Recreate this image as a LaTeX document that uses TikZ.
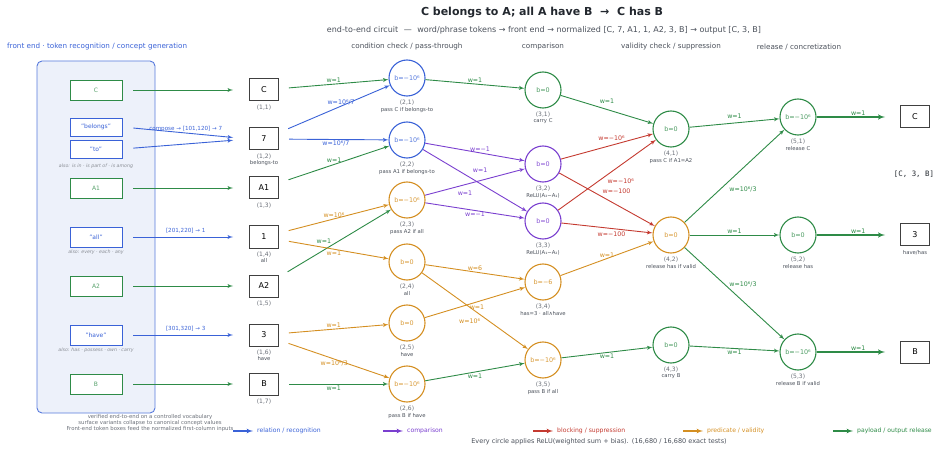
\documentclass[tikz,border=0pt]{standalone}
\usepackage{fontspec}
\setmainfont{DejaVu Sans}
\setmonofont{DejaVu Sans Mono}
\usepackage{tikz}
\usepackage{xcolor}
\usetikzlibrary{positioning}
\usetikzlibrary{shapes, arrows}

\definecolor{relblue}{HTML}{3A62D7}
\definecolor{paygreen}{HTML}{2E8B47}
\definecolor{predorange}{HTML}{D48F22}
\definecolor{cmppurple}{HTML}{7A3FCF}
\definecolor{blkred}{HTML}{C43A30}
\definecolor{titlec}{HTML}{22272E}
\definecolor{subc}{HTML}{4A505A}
\definecolor{idgray}{HTML}{6A6F78}
\definecolor{fefill}{HTML}{EDF1FA}

\newcommand{\fsz}[1]{\fontsize{#1}{#1}\selectfont}

\tikzstyle{line} = [draw, -latex', line width=0.9pt]
\tikzstyle{rel} = [line, relblue]
\tikzstyle{cmp} = [line, cmppurple]
\tikzstyle{blk} = [line, blkred]
\tikzstyle{pred} = [line, predorange]
\tikzstyle{pay} = [line, paygreen]
\tikzstyle{hdr} = [font=\fsz{7.2}, text=subc, inner sep=0pt]
\tikzstyle{febox} = [draw, fill=white, line width=0.9pt, minimum width=52pt, minimum height=20pt, inner sep=0pt, font=\fsz{6}]
\tikzstyle{fenote} = [font=\fsz{4.7}\itshape, text=idgray!80!white, inner sep=0pt]
\tikzstyle{inbox} = [draw=black!75, line width=1pt, minimum width=29pt, minimum height=22pt, inner sep=0pt, font=\fsz{8}]
\tikzstyle{unit} = [circle, draw, line width=1.1pt, minimum size=36pt, inner sep=0pt, font=\fsz{6.4}]
\tikzstyle{ublue} = [unit, draw=relblue, text=relblue!85!white]
\tikzstyle{ugreen} = [unit, draw=paygreen, text=paygreen!85!white]
\tikzstyle{uorange} = [unit, draw=predorange, text=predorange!90!white]
\tikzstyle{upurple} = [unit, draw=cmppurple, text=cmppurple!90!white]
\tikzstyle{idlab} = [font=\fsz{6}, text=idgray, inner sep=0.5pt]
\tikzstyle{desc} = [font=\fsz{5.3}, text=subc, inner sep=0.5pt]
\tikzstyle{wlab} = [font=\fsz{6.3}, inner sep=1pt]
\tikzstyle{lgd} = [font=\fsz{6.1}, inner sep=0pt, anchor=west]

\begin{document}
\begin{tikzpicture}[x=1pt, y=-1pt]
\useasboundingbox (0,0) rectangle (937,449);

\node[font=\bfseries\fsz{11}, text=titlec] (title) at (542,13) {C belongs to A; all A have B\hspace{0.7em}→\hspace{0.7em}C has B};
\node[font=\fsz{8}, text=subc] (subtitle) at (544,30) {end-to-end circuit\hspace{0.7em}—\hspace{0.7em}word/phrase tokens → front end → normalized [C, 7, A1, 1, A2, 3, B] → output [C, 3, B]};
\node[hdr, text=relblue, anchor=west] (hfront) at (7,47) {front end · token recognition / concept generation};
\node[hdr] (hcond) at (407,47) {condition check / pass-through};
\node[hdr] (hcomp) at (543,47) {comparison};
\node[hdr] (hvalid) at (671,47) {validity check / suppression};
\node[hdr] (hrelease) at (799,47) {release / concretization};

% front end
\node[draw=relblue!85!white, fill=fefill, rounded corners=5pt, line width=0.9pt, minimum width=118pt, minimum height=352pt] (panel) at (96,237) {};
\node[febox, draw=paygreen, text=paygreen!80!white] (fec) at (96,90) {C};
\node[febox, draw=relblue, text=relblue, minimum height=18pt] (febel) at (96,127) {"belongs"};
\node[febox, draw=relblue, text=relblue, minimum height=18pt] (feto) at (96,149) {"to"};
\node[fenote] (noteto) at (96,166) {also: is in · is part of · is among};
\node[febox, draw=paygreen, text=paygreen!80!white] (fea1) at (96,188) {A1};
\node[febox, draw=relblue, text=relblue] (feall) at (96,237) {"all"};
\node[fenote] (noteall) at (96,252) {also: every · each · any};
\node[febox, draw=paygreen, text=paygreen!80!white] (fea2) at (96,286) {A2};
\node[febox, draw=relblue, text=relblue] (fehave) at (96,335) {"have"};
\node[fenote] (notehave) at (96,350) {also: has · possess · own · carry};
\node[febox, draw=paygreen, text=paygreen!80!white] (feb) at (96,384) {B};

% layer 1
\node[inbox] (i1) at (264,90) {C};
\node[inbox] (i2) at (264,139) {7};
\node[inbox] (i3) at (264,188) {A1};
\node[inbox] (i4) at (264,237) {1};
\node[inbox] (i5) at (264,286) {A2};
\node[inbox] (i6) at (264,335) {3};
\node[inbox] (i7) at (264,384) {B};
\node[idlab, below=3pt of i1] (i1i) {(1,1)};
\node[idlab, below=3pt of i2] (i2i) {(1,2)};
\node[desc, below=0pt of i2i] (i2d) {belongs-to};
\node[idlab, below=3pt of i3] (i3i) {(1,3)};
\node[idlab, below=3pt of i4] (i4i) {(1,4)};
\node[desc, below=0pt of i4i] (i4d) {all};
\node[idlab, below=3pt of i5] (i5i) {(1,5)};
\node[idlab, below=3pt of i6] (i6i) {(1,6)};
\node[desc, below=0pt of i6i] (i6d) {have};
\node[idlab, below=3pt of i7] (i7i) {(1,7)};

% layer 2
\node[ublue] (n21) at (407,78) {b=−10⁶};
\node[ublue] (n22) at (407,140) {b=−10⁶};
\node[uorange] (n23) at (407,200) {b=−10⁶};
\node[uorange] (n24) at (407,262) {b=0};
\node[uorange] (n25) at (407,323) {b=0};
\node[uorange] (n26) at (407,384) {b=−10⁶};
\node[idlab, below=2.5pt of n21] (n21i) {(2,1)};
\node[desc, below=0.5pt of n21i] (n21d) {pass C if belongs-to};
\node[idlab, below=2.5pt of n22] (n22i) {(2,2)};
\node[desc, below=0.5pt of n22i] (n22d) {pass A1 if belongs-to};
\node[idlab, below=2.5pt of n23] (n23i) {(2,3)};
\node[desc, below=0.5pt of n23i] (n23d) {pass A2 if all};
\node[idlab, below=2.5pt of n24] (n24i) {(2,4)};
\node[desc, below=0.5pt of n24i] (n24d) {all};
\node[idlab, below=2.5pt of n25] (n25i) {(2,5)};
\node[desc, below=0.5pt of n25i] (n25d) {have};
\node[idlab, below=2.5pt of n26] (n26i) {(2,6)};
\node[desc, below=0.5pt of n26i] (n26d) {pass B if have};

% layer 3
\node[ugreen] (n31) at (543,90) {b=0};
\node[upurple] (n32) at (543,164) {b=0};
\node[upurple] (n33) at (543,221) {b=0};
\node[uorange] (n34) at (543,282) {b=−6};
\node[uorange] (n35) at (543,360) {b=−10⁶};
\node[idlab, below=2.5pt of n31] (n31i) {(3,1)};
\node[desc, below=0.5pt of n31i] (n31d) {carry C};
\node[idlab, below=2.5pt of n32] (n32i) {(3,2)};
\node[desc, below=0.5pt of n32i] (n32d) {ReLU(A₂−A₁)};
\node[idlab, below=2.5pt of n33] (n33i) {(3,3)};
\node[desc, below=0.5pt of n33i] (n33d) {ReLU(A₁−A₂)};
\node[idlab, below=2.5pt of n34] (n34i) {(3,4)};
\node[desc, below=0.5pt of n34i] (n34d) {has=3 · all∧have};
\node[idlab, below=2.5pt of n35] (n35i) {(3,5)};
\node[desc, below=0.5pt of n35i] (n35d) {pass B if all};

% layer 4
\node[ugreen] (n41) at (671,129) {b=0};
\node[uorange] (n42) at (671,235) {b=0};
\node[ugreen] (n43) at (671,345) {b=0};
\node[idlab, below=2.5pt of n41] (n41i) {(4,1)};
\node[desc, below=0.5pt of n41i] (n41d) {pass C if A1=A2};
\node[idlab, below=2.5pt of n42] (n42i) {(4,2)};
\node[desc, below=0.5pt of n42i] (n42d) {release has if valid};
\node[idlab, below=2.5pt of n43] (n43i) {(4,3)};
\node[desc, below=0.5pt of n43i] (n43d) {carry B};

% layer 5
\node[ugreen] (n51) at (798,117) {b=−10⁶};
\node[ugreen] (n52) at (798,235) {b=0};
\node[ugreen] (n53) at (798,352) {b=−10⁶};
\node[idlab, below=2.5pt of n51] (n51i) {(5,1)};
\node[desc, below=0.5pt of n51i] (n51d) {release C};
\node[idlab, below=2.5pt of n52] (n52i) {(5,2)};
\node[desc, below=0.5pt of n52i] (n52d) {release has};
\node[idlab, below=2.5pt of n53] (n53i) {(5,3)};
\node[desc, below=0.5pt of n53i] (n53d) {release B if valid};

% outputs
\node[inbox] (o1) at (915,117) {C};
\node[inbox] (o2) at (915,235) {3};
\node[inbox] (o3) at (915,352) {B};
\node[desc, below=3pt of o2] (o2d) {have/has};
\node[font=\ttfamily\fsz{7.4}, text=titlec] (outlist) at (914,174) {[C, 3, B]};

% front end -> layer 1
\draw[pay, shorten <=11pt, shorten >=16pt] (fec) -- (i1);
\draw[rel, shorten <=11pt, shorten >=16pt] (febel.east) -- node[wlab, font=\fsz{5.6}, above] (lcomp) {compose → [101,120] → 7} (i2.west);
\draw[rel, shorten <=11pt, shorten >=16pt] (feto.east) -- (i2.west);
\draw[pay, shorten <=11pt, shorten >=16pt] (fea1) -- (i3);
\draw[rel, shorten <=11pt, shorten >=16pt] (feall) -- node[wlab, font=\fsz{5.6}, above=2pt] (lall) {[201,220] → 1} (i4);
\draw[pay, shorten <=11pt, shorten >=16pt] (fea2) -- (i5);
\draw[rel, shorten <=11pt, shorten >=16pt] (fehave) -- node[wlab, font=\fsz{5.6}, above=2pt] (lhave) {[301,320] → 3} (i6);
\draw[pay, shorten <=11pt, shorten >=16pt] (feb) -- (i7);

% layer 1 -> layer 2
\draw[pay, shorten <=10pt] (i1) -- node[wlab, above] (w1a) {w=1} (n21);
\draw[rel, shorten <=10pt] (i2) -- node[wlab, pos=0.56, above] (w1b) {w=10⁶/7} (n21);
\draw[rel, shorten <=10pt] (i2) -- node[wlab, pos=0.52, below] (w1c) {w=10⁶/7} (n22);
\draw[pay, shorten <=10pt] (i3) -- node[wlab, above] (w1d) {w=1} (n22);
\draw[pred, shorten <=10pt] (i4) -- node[wlab, above] (w1e) {w=10⁶} (n23);
\draw[pay, shorten <=10pt] (i5) -- node[wlab, pos=0.4, above=5pt] (w1f) {w=1} (n23);
\draw[pred, shorten <=10pt] (i4) -- node[wlab, below] (w1g) {w=1} (n24);
\draw[pred, shorten <=10pt] (i6) -- node[wlab, above] (w1h) {w=1} (n25);
\draw[pred, shorten <=10pt] (i6) -- node[wlab, below] (w1i) {w=10⁶/3} (n26);
\draw[pay, shorten <=10pt] (i7) -- node[wlab, below] (w1j) {w=1} (n26);

% layer 2 -> layer 3
\draw[pay] (n21) -- node[wlab, above] (w2a) {w=1} (n31);
\draw[cmp] (n22) -- node[wlab, pos=0.55, above] (w2b) {w=−1} (n32);
\draw[cmp] (n22) -- node[wlab, pos=0.55, above=10pt] (w2c) {w=1} (n33);
\draw[cmp] (n23) -- node[wlab, pos=0.4, below=5pt] (w2d) {w=1} (n32);
\draw[cmp] (n23) -- node[wlab, below] (w2e) {w=−1} (n33);
\draw[pred] (n24) -- node[wlab, above] (w2f) {w=6} (n34);
\draw[pred] (n24) -- node[wlab, pos=0.45, below=10pt] (w2g) {w=10⁶} (n35);
\draw[pred] (n25) -- node[wlab, pos=0.52, below=2pt] (w2h) {w=1} (n34);
\draw[pay] (n26) -- node[wlab, below] (w2i) {w=1} (n35);

% layer 3 -> layer 4
\draw[pay] (n31) -- node[wlab, above=5pt] (w3a) {w=1} (n41);
\draw[blk] (n32) -- node[wlab, pos=0.55, above=3pt] (w3b) {w=−10⁶} (n41);
\draw[blk] (n33) -- node[wlab, pos=0.64, below=12pt] (w3c) {w=−10⁶} (n41);
\draw[blk] (n32) -- node[wlab, pos=0.6, above=10pt] (w3d) {w=−100} (n42);
\draw[blk] (n33) -- node[wlab, pos=0.55, below=2pt] (w3e) {w=−100} (n42);
\draw[pred] (n34) -- node[wlab, above] (w3f) {w=1} (n42);
\draw[pay] (n35) -- node[wlab, below] (w3g) {w=1} (n43);

% layer 4 -> layer 5
\draw[pay] (n41) -- node[wlab, above=3pt] (w4a) {w=1} (n51);
\draw[pay] (n42) -- node[wlab, pos=0.585, below=17pt] (w4b) {w=10⁶/3} (n51);
\draw[pay] (n42) -- node[wlab, above] (w4c) {w=1} (n52);
\draw[pay] (n42) -- node[wlab, pos=0.585, above=13pt] (w4d) {w=10⁶/3} (n53);
\draw[pay] (n43) -- node[wlab, below] (w4e) {w=1} (n53);

% layer 5 -> outputs
\draw[pay, line width=1.4pt, shorten >=15pt] (n51) -- node[wlab, above] (w5a) {w=1} (o1);
\draw[pay, line width=1.4pt, shorten >=15pt] (n52) -- node[wlab, above] (w5b) {w=1} (o2);
\draw[pay, line width=1.4pt, shorten >=15pt] (n53) -- node[wlab, above] (w5c) {w=1} (o3);

% notes and legend
\node[font=\fontsize{5.35}{6}\selectfont, text=idgray, align=center] (fnote) at (150,423) {verified end-to-end on a controlled vocabulary\\surface variants collapse to canonical concept values\\Front-end token boxes feed the normalized first-column inputs};
\coordinate (lg1a) at (233,431); \coordinate (lg1b) at (253,431);
\coordinate (lg2a) at (383,431); \coordinate (lg2b) at (403,431);
\coordinate (lg3a) at (533,431); \coordinate (lg3b) at (553,431);
\coordinate (lg4a) at (683,431); \coordinate (lg4b) at (703,431);
\coordinate (lg5a) at (833,431); \coordinate (lg5b) at (853,431);
\draw[rel, line width=1.2pt] (lg1a) -- (lg1b);
\draw[cmp, line width=1.2pt] (lg2a) -- (lg2b);
\draw[blk, line width=1.2pt] (lg3a) -- (lg3b);
\draw[pred, line width=1.2pt] (lg4a) -- (lg4b);
\draw[pay, line width=1.2pt] (lg5a) -- (lg5b);
\node[lgd, text=relblue] (lg1t) at (257,431) {relation / recognition};
\node[lgd, text=cmppurple] (lg2t) at (407,431) {comparison};
\node[lgd, text=blkred] (lg3t) at (557,431) {blocking / suppression};
\node[lgd, text=predorange] (lg4t) at (707,431) {predicate / validity};
\node[lgd, text=paygreen] (lg5t) at (857,431) {payload / output release};
\node[font=\fsz{6.5}, text=subc] (bottom) at (599,442) {Every circle applies ReLU(weighted sum + bias).\enspace (16,680 / 16,680 exact tests)};

\end{tikzpicture}
\end{document}
